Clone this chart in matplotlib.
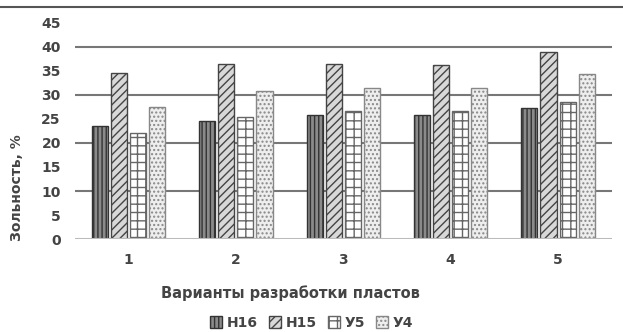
import numpy as np
import matplotlib.pyplot as plt
from matplotlib.lines import Line2D
from matplotlib.patches import Patch

# Данные
variants = ['1', '2', '3', '4', '5']
h16 = [23.5, 24.6, 25.8, 25.8, 27.3]
h15 = [34.5, 36.5, 36.5, 36.2, 39.0]
u5 = [22.0, 25.4, 26.7, 26.7, 28.6]
u4 = [27.4, 30.8, 31.5, 31.5, 34.4]
series_names = ['Н16', 'Н15', 'У5', 'У4']

plt.rcParams['hatch.linewidth'] = 1.0

fig = plt.figure(figsize=(6.23, 3.32), dpi=100)
ax = fig.add_axes([0.12, 0.28, 0.862, 0.651])

x = np.arange(len(variants))
w = 0.15
step = 0.178
styles = [
    dict(facecolor='#8a8a8a', edgecolor='#333333', hatch='||||'),
    dict(facecolor='#d8d8d8', edgecolor='#444444', hatch='////'),
    dict(facecolor='white', edgecolor='#666666', hatch='++'),
    dict(facecolor='#eeeeee', edgecolor='#888888', hatch='....'),
]
for i, vals in enumerate([h16, h15, u5, u4]):
    ax.bar(x + (i - 1.5) * step, vals, width=w, linewidth=1.0,
           label=series_names[i], zorder=3, **styles[i])

ax.set_ylim(0, 45)
ax.set_xlim(-0.5, 4.5)
ax.set_yticks(range(0, 46, 5))
for g in [10, 20, 30, 40]:
    ax.axhline(g, color='#777777', lw=1.5, zorder=1)
ax.axhline(0, color='#bbbbbb', lw=1.5, zorder=4)
ax.set_xticks(x)
ax.set_xticklabels(variants)
for s in ax.spines.values():
    s.set_visible(False)
ax.tick_params(length=0, labelsize=10, colors='#444444', pad=10)
for lab in ax.get_xticklabels() + ax.get_yticklabels():
    lab.set_fontweight('bold')

ax.set_ylabel('Зольность, %', fontsize=10, fontweight='bold', color='#444444')
ax.yaxis.set_label_coords(-0.095, 0.24)
ax.set_xlabel('Варианты разработки пластов', fontsize=10.5, fontweight='bold',
              color='#444444')
ax.xaxis.set_label_coords(0.402, -0.215)

handles = [Patch(label=series_names[i], **styles[i]) for i in range(4)]
leg = fig.legend(handles=handles, loc='center', bbox_to_anchor=(0.50, 0.027), ncol=4,
                 frameon=False, fontsize=10, handlelength=0.9, handleheight=0.9,
                 handletextpad=0.3, columnspacing=0.8)
for t in leg.get_texts():
    t.set_fontweight('bold')
    t.set_color('#444444')

fig.add_artist(Line2D([0, 1], [0.978, 0.978], color='#555555', lw=1.5))

fig.savefig('out.png', dpi=100)
